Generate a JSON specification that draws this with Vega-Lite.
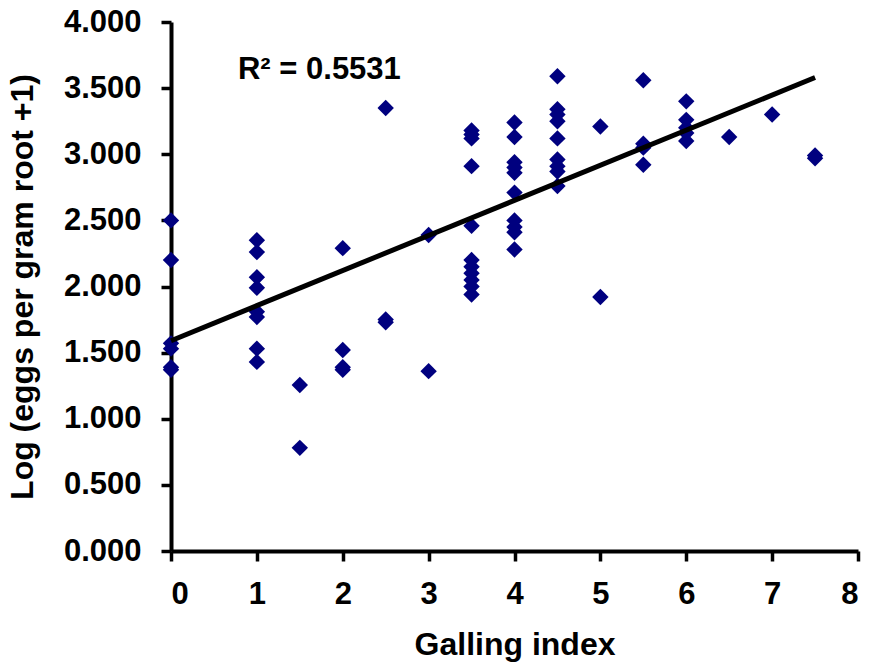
{
  "$schema": "https://vega.github.io/schema/vega-lite/v6.json",
  "autosize": {"type": "none"},
  "width": 687,
  "height": 529,
  "padding": {"left": 171, "top": 22, "right": 11, "bottom": 119},
  "background": "white",
  "config": {
    "view": {"stroke": null},
    "font": "Liberation Sans",
    "axis": {
      "grid": false,
      "domainColor": "black",
      "domainWidth": 4,
      "tickColor": "black",
      "tickWidth": 3.5,
      "tickSize": 10,
      "labelColor": "black",
      "labelFont": "Liberation Sans",
      "labelFontSize": 31,
      "labelFontWeight": "bold",
      "titleColor": "black",
      "titleFont": "Liberation Sans",
      "titleFontSize": 32,
      "titleFontWeight": "bold"
    }
  },
  "datasets": {
    "points": [
      {"gi": 0, "egg": 2.5}, {"gi": 0, "egg": 2.2}, {"gi": 0, "egg": 1.57}, {"gi": 0, "egg": 1.53}, {"gi": 0, "egg": 1.39}, {"gi": 0, "egg": 1.37},
      {"gi": 1, "egg": 2.35}, {"gi": 1, "egg": 2.26}, {"gi": 1, "egg": 2.07}, {"gi": 1, "egg": 1.99}, {"gi": 1, "egg": 1.81}, {"gi": 1, "egg": 1.77}, {"gi": 1, "egg": 1.53}, {"gi": 1, "egg": 1.43},
      {"gi": 1.5, "egg": 1.255}, {"gi": 1.5, "egg": 0.78},
      {"gi": 2, "egg": 2.29}, {"gi": 2, "egg": 1.52}, {"gi": 2, "egg": 1.39}, {"gi": 2, "egg": 1.37},
      {"gi": 2.5, "egg": 3.35}, {"gi": 2.5, "egg": 1.75}, {"gi": 2.5, "egg": 1.73},
      {"gi": 3, "egg": 2.39}, {"gi": 3, "egg": 1.36},
      {"gi": 3.5, "egg": 3.18}, {"gi": 3.5, "egg": 3.15}, {"gi": 3.5, "egg": 3.12}, {"gi": 3.5, "egg": 2.91}, {"gi": 3.5, "egg": 2.46}, {"gi": 3.5, "egg": 2.2}, {"gi": 3.5, "egg": 2.15}, {"gi": 3.5, "egg": 2.1}, {"gi": 3.5, "egg": 2.05}, {"gi": 3.5, "egg": 2.0}, {"gi": 3.5, "egg": 1.94},
      {"gi": 4, "egg": 3.24}, {"gi": 4, "egg": 3.13}, {"gi": 4, "egg": 2.94}, {"gi": 4, "egg": 2.9}, {"gi": 4, "egg": 2.86}, {"gi": 4, "egg": 2.71}, {"gi": 4, "egg": 2.5}, {"gi": 4, "egg": 2.45}, {"gi": 4, "egg": 2.41}, {"gi": 4, "egg": 2.28},
      {"gi": 4.5, "egg": 3.59}, {"gi": 4.5, "egg": 3.34}, {"gi": 4.5, "egg": 3.3}, {"gi": 4.5, "egg": 3.25}, {"gi": 4.5, "egg": 3.12}, {"gi": 4.5, "egg": 2.96}, {"gi": 4.5, "egg": 2.91}, {"gi": 4.5, "egg": 2.87}, {"gi": 4.5, "egg": 2.76},
      {"gi": 5, "egg": 3.21}, {"gi": 5, "egg": 1.92},
      {"gi": 5.5, "egg": 3.56}, {"gi": 5.5, "egg": 3.08}, {"gi": 5.5, "egg": 3.05}, {"gi": 5.5, "egg": 2.92},
      {"gi": 6, "egg": 3.4}, {"gi": 6, "egg": 3.26}, {"gi": 6, "egg": 3.2}, {"gi": 6, "egg": 3.16}, {"gi": 6, "egg": 3.1},
      {"gi": 6.5, "egg": 3.13},
      {"gi": 7, "egg": 3.3},
      {"gi": 7.5, "egg": 2.99}, {"gi": 7.5, "egg": 2.97}
    ],
    "trend": [
      {"gi": 0, "egg": 1.59},
      {"gi": 7.5, "egg": 3.58}
    ],
    "label": [
      {"gi": 0.78, "egg": 3.64, "txt": "R² = 0.5531"}
    ]
  },
  "layer": [
    {
      "data": {"name": "points"},
      "mark": {"type": "point", "shape": "diamond", "filled": true, "color": "#00007f", "opacity": 1, "size": 270},
      "encoding": {
        "x": {"field": "gi", "type": "quantitative", "scale": {"domain": [0, 8], "nice": false},
              "axis": {"title": "Galling index", "values": [0,1,2,3,4,5,6,7,8], "format": "d", "labelPadding": 18, "titlePadding": 20}},
        "y": {"field": "egg", "type": "quantitative", "scale": {"domain": [0, 4], "nice": false},
              "axis": {"title": "Log (eggs per gram root +1)", "values": [0,0.5,1,1.5,2,2.5,3,3.5,4], "format": ".3f", "labelPadding": 20, "titlePadding": 24}}
      }
    },
    {
      "data": {"name": "trend"},
      "mark": {"type": "line", "color": "black", "strokeWidth": 5},
      "encoding": {
        "x": {"field": "gi", "type": "quantitative"},
        "y": {"field": "egg", "type": "quantitative"}
      }
    },
    {
      "data": {"name": "label"},
      "mark": {"type": "text", "align": "left", "baseline": "middle", "fontSize": 31, "fontWeight": "bold", "font": "Liberation Sans", "color": "black"},
      "encoding": {
        "x": {"field": "gi", "type": "quantitative"},
        "y": {"field": "egg", "type": "quantitative"},
        "text": {"field": "txt"}
      }
    }
  ]
}
